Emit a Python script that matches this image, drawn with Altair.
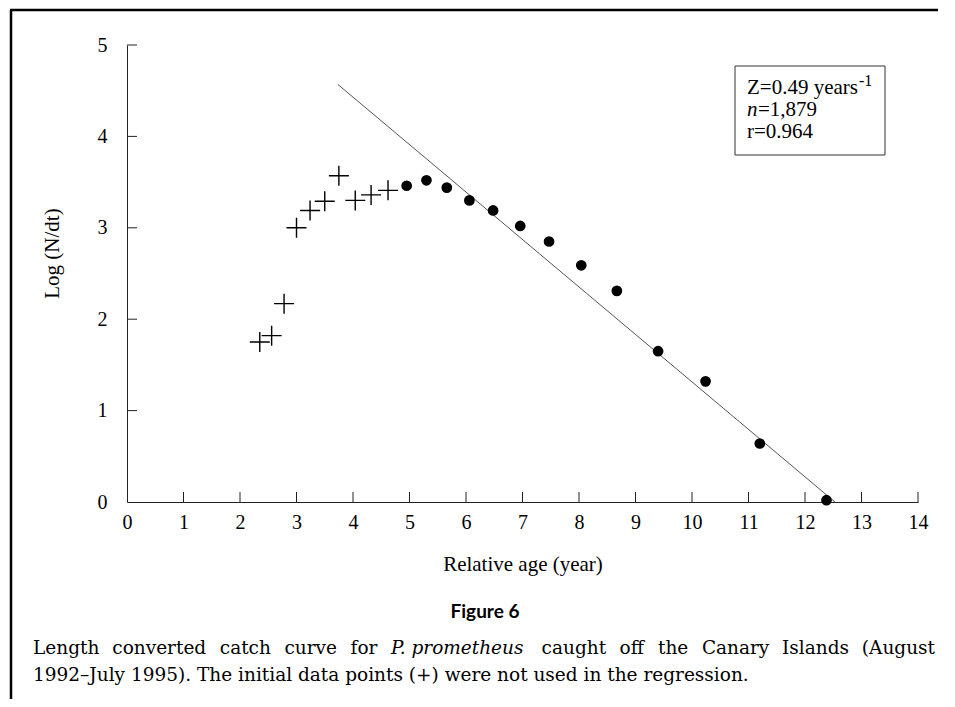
import altair as alt
import pandas as pd

# ---- data ----
excluded_age = [2.35, 2.56, 2.78, 3.00, 3.24, 3.50, 3.75, 4.04, 4.32, 4.62]
excluded_log = [1.75, 1.82, 2.17, 3.00, 3.19, 3.29, 3.57, 3.30, 3.36, 3.41]
used_age = [4.95, 5.30, 5.66, 6.06, 6.48, 6.96, 7.47, 8.04, 8.67, 9.40, 10.24, 11.20, 12.38]
used_log = [3.46, 3.52, 3.44, 3.30, 3.19, 3.02, 2.85, 2.59, 2.31, 1.65, 1.32, 0.64, 0.02]
fit_age = [3.73, 12.53]
fit_log = [4.57, 0.0]
x_ticks = list(range(0, 15))
y_ticks = [0, 1, 2, 3, 4, 5]

# caption, line 1 is justified word by word
caption_words = ["Length", "converted", "catch", "curve", "for", "P. prometheus",
                 "caught", "off", "the", "Canary", "Islands", "(August"]
caption_line2 = "1992\u2013July 1995). The initial data points (+) were not used in the regression."

W, H = 791, 457
FONT = "Liberation Serif"
CAP_FONT = "DejaVu Serif"

x_scale = alt.Scale(domain=[0, 14], nice=False, zero=False)
y_scale = alt.Scale(domain=[0, 5], nice=False, zero=False)

x_axis = alt.Axis(values=x_ticks, ticks=False, tickSize=0, labelPadding=10,
                  labelFontSize=20, labelFont=FONT, labelColor="black",
                  labelFlush=False, domainColor="#222", domainWidth=1, grid=False,
                  title="Relative age (year)", titleFont=FONT, titleFontSize=21,
                  titleFontWeight="normal", titleColor="black",
                  titleY=68, titleBaseline="alphabetic")
y_axis = alt.Axis(values=y_ticks, ticks=False, tickSize=0, labelPadding=20,
                  labelFontSize=20, labelFont=FONT, labelColor="black",
                  labelFlush=False, domainColor="#222", domainWidth=1, grid=False,
                  title="Log (N/dt)", titleFont=FONT, titleFontSize=21,
                  titleFontWeight="normal", titleColor="black",
                  titleX=-69, titleY=208, titleAngle=270, titleBaseline="alphabetic")

X = alt.X("age:Q", scale=x_scale, axis=x_axis)
Y = alt.Y("log:Q", scale=y_scale, axis=y_axis)

df_ex = pd.DataFrame({"age": excluded_age, "log": excluded_log})
df_used = pd.DataFrame({"age": used_age, "log": used_log})
df_fit = pd.DataFrame({"age": fit_age, "log": fit_log})

crosses = alt.Chart(df_ex).mark_point(
    shape="M-1,0L1,0M0,-1L0,1", size=400, filled=False,
    stroke="black", strokeWidth=1.4, opacity=1
).encode(x=X, y=Y)

dots = alt.Chart(df_used).mark_circle(size=115, color="black", opacity=1).encode(x=X, y=Y)

fit = alt.Chart(df_fit).mark_line(color="#555", strokeWidth=1).encode(x=X, y=Y)

xt = alt.Chart(pd.DataFrame({"age": x_ticks[1:]})).mark_rule(color="#222", strokeWidth=1).encode(
    x=X, y=alt.value(H), y2=alt.value(H - 10),
)
yt = alt.Chart(pd.DataFrame({"log": y_ticks[1:]})).mark_rule(color="#222", strokeWidth=1).encode(
    y=Y, x=alt.value(0), x2=alt.value(10),
)

one = pd.DataFrame({"k": [0]})

# white covers over the top and right edges of the plot cell (no frame there)
cover_top = alt.Chart(one).mark_rule(color="white", strokeWidth=3).encode(
    x=alt.value(2), x2=alt.value(W + 3), y=alt.value(0))
cover_right = alt.Chart(one).mark_rule(color="white", strokeWidth=3).encode(
    x=alt.value(W), y=alt.value(-2), y2=alt.value(H - 2))

frame_top = alt.Chart(one).mark_rule(color="black", strokeWidth=2.5).encode(
    x=alt.value(-117), x2=alt.value(811), y=alt.value(-35))
frame_left = alt.Chart(one).mark_rule(color="black", strokeWidth=2.5).encode(
    x=alt.value(-116), y=alt.value(-35), y2=alt.value(654))

box = alt.Chart(one).mark_rect(fill="white", stroke="#333", strokeWidth=1).encode(
    x=alt.value(608), x2=alt.value(758), y=alt.value(21), y2=alt.value(110))


def label(txt, x, y, size=20, font=FONT, style="normal", weight="normal", align="left"):
    return alt.Chart(pd.DataFrame({"t": [txt]})).mark_text(
        align=align, baseline="alphabetic", font=font, fontSize=size,
        fontStyle=style, fontWeight=weight, color="black"
    ).encode(x=alt.value(x), y=alt.value(y), text="t:N")


word_x = [-94, -14.7, 92.8, 157.5, 223.6, 264, 414.6, 492.6, 531, 574.9, 655, 808]

texts = [
    label("Z=0.49 years", 620, 49, size=21),
    label("-1", 732, 41, size=16),
    label("n", 620, 71, size=21, style="italic"),
    label("=1,879", 631, 71, size=21),
    label("r=0.964", 620, 93, size=21),
    label("Figure 6", 358, 573, size=19, font="Lato", weight="bold", align="center"),
    label(caption_line2, -94, 636, size=18.5, font=CAP_FONT),
]
for i, (w, xx) in enumerate(zip(caption_words, word_x)):
    texts.append(label(w, xx, 609, size=18.5, font=CAP_FONT,
                       style="italic" if w == "P. prometheus" else "normal",
                       align="right" if i == len(caption_words) - 1 else "left"))

chart = alt.layer(
    cover_top, cover_right, frame_top, frame_left, fit, xt, yt, crosses, dots, box, *texts
).properties(
    width=W, height=H,
    autosize=alt.AutoSizeParams(type="none"),
    padding={"left": 119, "top": 37, "right": 20, "bottom": 197},
    view=alt.ViewBackground(stroke="transparent", strokeOpacity=0, strokeWidth=0),
).configure(
    background="white",
    view=alt.ViewConfig(stroke="transparent", strokeOpacity=0, strokeWidth=0),
    style={"cell": {"stroke": "transparent", "strokeWidth": 0}},
)

chart.save("out.html", embed_options={"renderer": "svg", "actions": False})
